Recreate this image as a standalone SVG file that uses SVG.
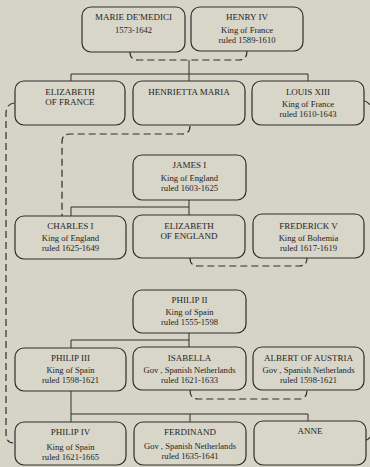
<svg xmlns="http://www.w3.org/2000/svg" width="370" height="467" viewBox="0 0 370 467">
<style>
.bg{fill:#d6d3c7}
.box{fill:#d8d5c9;stroke:#2e2e2c;stroke-width:1.2}
.ln{fill:none;stroke:#2e2e2c;stroke-width:1}
.ds{fill:none;stroke:#2e2e2c;stroke-width:1.2;stroke-dasharray:7,4}
text{font-family:"Liberation Serif","Times New Roman",serif;fill:#1f1f1d;text-anchor:middle}
.n{font-size:9px}
.s{font-size:8.6px}
</style>
<rect class="bg" x="0" y="0" width="370" height="467"/>
<g id="connectors">
<path class="ds" d="M130,52 Q130,60 138,60 H239 Q247,60 247,51"/>
<path class="ln" d="M189,60 V74 M71,81 V74 H308 V81 M189,74 V81"/>
<path class="ds" d="M190,126 Q190,134 182,134 H70 Q62,134 62,142 V216"/>
<path class="ds" d="M14,103 Q6,104 6,114 V434 Q6,443 14,443"/>
<path class="ds" d="M364,101 Q367,101 370,105"/>
<path class="ds" d="M366,440 Q368,440 370,437"/>
<path class="ln" d="M189,200 V215 M189,207 H71 V216"/>
<path class="ds" d="M190,258 Q190,266 198,266 H299 Q307,266 307,258"/>
<path class="ln" d="M189,333 V347 M189,340 H71 V348"/>
<path class="ds" d="M190,390 Q190,399 198,399 H299 Q307,399 307,390"/>
<path class="ln" d="M71,391 V422 M71,414 H308 V422 M190,414 V422"/>
</g>
<g id="marie"><rect class="box" x="82" y="7" width="103" height="45" rx="9"/><text class="n" x="133.5" y="20">MARIE DE'MEDICI</text><text class="s" x="133.5" y="33">1573-1642</text></g>
<g id="henry"><rect class="box" x="191" y="7" width="112" height="44" rx="9"/><text class="n" x="247" y="20">HENRY IV</text><text class="s" x="247" y="33">King of France</text><text class="s" x="247" y="43">ruled 1589-1610</text></g>
<g id="elizabeth-france"><rect class="box" x="15" y="81" width="110" height="44" rx="9"/><text class="n" x="70" y="95">ELIZABETH</text><text class="n" x="70" y="105">OF FRANCE</text></g>
<g id="henrietta"><rect class="box" x="133" y="81" width="112" height="44" rx="9"/><text class="n" x="189" y="95">HENRIETTA MARIA</text></g>
<g id="louis"><rect class="box" x="252" y="81" width="112" height="44" rx="9"/><text class="n" x="308" y="95">LOUIS XIII</text><text class="s" x="308" y="107">King of France</text><text class="s" x="308" y="117">ruled 1610-1643</text></g>
<g id="james"><rect class="box" x="133" y="155" width="113" height="45" rx="9"/><text class="n" x="189.5" y="168">JAMES I</text><text class="s" x="189.5" y="181">King of England</text><text class="s" x="189.5" y="191">ruled 1603-1625</text></g>
<g id="charles"><rect class="box" x="15" y="216" width="111" height="43" rx="9"/><text class="n" x="70.5" y="229">CHARLES I</text><text class="s" x="70.5" y="241">King of England</text><text class="s" x="70.5" y="251">ruled 1625-1649</text></g>
<g id="elizabeth-england"><rect class="box" x="133" y="215" width="112" height="43" rx="9"/><text class="n" x="189" y="229">ELIZABETH</text><text class="n" x="189" y="239">OF ENGLAND</text></g>
<g id="frederick"><rect class="box" x="253" y="214" width="111" height="44" rx="9"/><text class="n" x="308.5" y="229">FREDERICK V</text><text class="s" x="308.5" y="241">King of Bohemia</text><text class="s" x="308.5" y="251">ruled 1617-1619</text></g>
<g id="philip2"><rect class="box" x="133" y="290" width="113" height="43" rx="9"/><text class="n" x="189.5" y="303">PHILIP II</text><text class="s" x="189.5" y="315">King of Spain</text><text class="s" x="189.5" y="325">ruled 1555-1598</text></g>
<g id="philip3"><rect class="box" x="15" y="348" width="111" height="43" rx="9"/><text class="n" x="70.5" y="361">PHILIP III</text><text class="s" x="70.5" y="373">King of Spain</text><text class="s" x="70.5" y="383">ruled 1598-1621</text></g>
<g id="isabella"><rect class="box" x="133" y="347" width="113" height="43" rx="9"/><text class="n" x="189.5" y="361">ISABELLA</text><text class="s" x="189.5" y="373">Gov , Spanish Netherlands</text><text class="s" x="189.5" y="383">ruled 1621-1633</text></g>
<g id="albert"><rect class="box" x="253" y="347" width="111" height="43" rx="9"/><text class="n" x="308.5" y="361">ALBERT OF AUSTRIA</text><text class="s" x="308.5" y="373">Gov , Spanish Netherlands</text><text class="s" x="308.5" y="383">ruled 1598-1621</text></g>
<g id="philip4"><rect class="box" x="15" y="422" width="111" height="43" rx="9"/><text class="n" x="70.5" y="435">PHILIP IV</text><text class="s" x="70.5" y="450">King of Spain</text><text class="s" x="70.5" y="460">ruled 1621-1665</text></g>
<g id="ferdinand"><rect class="box" x="134" y="422" width="112" height="43" rx="9"/><text class="n" x="190" y="435">FERDINAND</text><text class="s" x="190" y="449">Gov , Spanish Netherlands</text><text class="s" x="190" y="459">ruled 1635-1641</text></g>
<g id="anne"><rect class="box" x="254" y="421" width="112" height="44" rx="9"/><text class="n" x="310" y="434">ANNE</text></g>
</svg>
